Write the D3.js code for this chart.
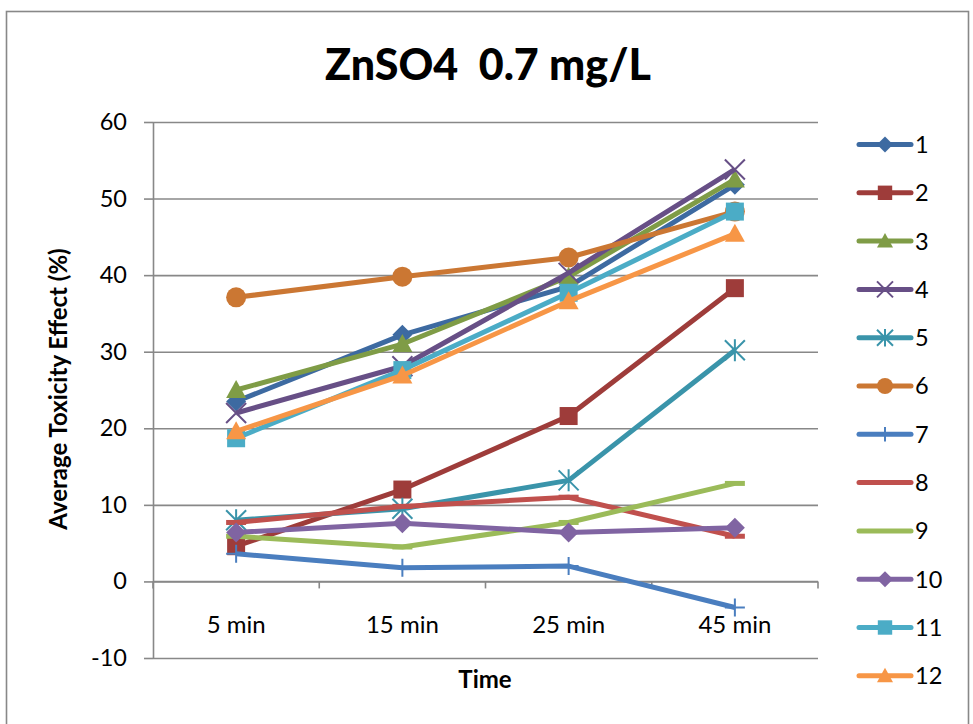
<!DOCTYPE html>
<html>
<head>
<meta charset="utf-8">
<script src="https://cdn.jsdelivr.net/npm/d3@7"></script>
<style>
  html, body { margin: 0; padding: 0; background: #fff; }
  svg { display: block; }
  text { font-family: Lato, "Open Sans", "Liberation Sans", sans-serif; fill: #000; }
</style>
</head>
<body>
<div id="chart"></div>
<script>
// Categories (sampling times) and tick values
const times = ["5 min", "15 min", "25 min", "45 min"];
const yTicks = [-10, 0, 10, 20, 30, 40, 50, 60];

// Series names
const seriesNames = ["1", "2", "3", "4", "5", "6", "7", "8", "9", "10", "11", "12"];

// Average toxicity effect (%) per series, one value per time
const s1  = [23.5, 32.2, 38.5, 51.8];
const s2  = [4.6, 12.0, 21.6, 38.3];
const s3  = [25.0, 31.0, 39.8, 52.5];
const s4  = [22.0, 28.1, 40.3, 53.8];
const s5  = [8.0, 9.5, 13.2, 30.2];
const s6  = [37.1, 39.8, 42.3, 48.3];
const s7  = [3.6, 1.8, 2.0, -3.4];
const s8  = [7.7, 9.8, 11.0, 5.9];
const s9  = [5.9, 4.5, 7.7, 12.8];
const s10 = [6.4, 7.6, 6.4, 7.0];
const s11 = [18.7, 27.6, 37.7, 48.3];
const s12 = [19.6, 26.9, 36.6, 45.4];
const seriesValues = [s1, s2, s3, s4, s5, s6, s7, s8, s9, s10, s11, s12];

const colors = ["#3D6AA1", "#9E3C3A", "#7F9C46", "#674F86", "#3A94AA", "#CB7733",
                "#4A7EBF", "#C0504D", "#9BBB59", "#8064A2", "#4BACC6", "#F79646"];
const markers = ["diamond", "square", "triangle", "x", "asterisk", "circle",
                 "plus", "dash", "dash", "diamond", "square", "triangle"];

const W = 973, H = 724;
const plot = { left: 153, right: 818, top: 122, bottom: 658 };

const svg = d3.select("#chart").append("svg")
  .attr("width", W).attr("height", H);

// Chart frame
svg.append("rect")
  .attr("x", 6.5).attr("y", 11.5).attr("width", 962).attr("height", 740)
  .attr("fill", "#fff").attr("stroke", "#888").attr("stroke-width", 1.6);

// Title
svg.append("text")
  .attr("x", 488).attr("y", 80)
  .attr("text-anchor", "middle")
  .attr("font-size", 43).attr("font-weight", 900)
  .text("ZnSO4\u00a0\u00a00.7 mg/L");

const x = d3.scaleBand().domain(times).range([plot.left, plot.right]).padding(0);
const y = d3.scaleLinear().domain([-10, 60]).range([plot.bottom, plot.top]);
const cx = t => x(t) + x.bandwidth() / 2;

// Horizontal gridlines with left tick marks
const gridG = svg.append("g")
  .attr("transform", `translate(${plot.left},0)`)
  .call(d3.axisLeft(y).tickValues(yTicks).tickSize(9).tickSizeOuter(0).tickPadding(17)
        .tickFormat(d => String(d)));
gridG.select(".domain").attr("stroke", "#888").attr("stroke-width", 1.6);
gridG.selectAll(".tick line").attr("stroke", "#888").attr("stroke-width", 1.6);
gridG.selectAll(".tick text").attr("font-size", 23.5).attr("font-family", "Lato, sans-serif").attr("fill", "#000");
gridG.selectAll(".tick").append("line")
  .attr("x1", 0).attr("x2", plot.right - plot.left)
  .attr("stroke", "#888").attr("stroke-width", 1.6);

// Category axis at zero with tick marks between categories
const catAxis = svg.append("g").attr("transform", `translate(0,${y(0)})`);
catAxis.append("line")
  .attr("x1", plot.left).attr("x2", plot.right)
  .attr("stroke", "#888").attr("stroke-width", 1.6);
const bounds = times.map(t => x(t)).concat([x(times[times.length - 1]) + x.bandwidth()]);
catAxis.selectAll("line.tk").data(bounds).join("line").attr("class", "tk")
  .attr("x1", d => d).attr("x2", d => d).attr("y1", 0).attr("y2", 7)
  .attr("stroke", "#888").attr("stroke-width", 1.6);
catAxis.selectAll("text").data(times).join("text")
  .attr("x", d => cx(d)).attr("y", 52)
  .attr("text-anchor", "middle").attr("font-size", 24)
  .text(d => d);

// Axis titles
svg.append("text")
  .attr("transform", "translate(67,389) rotate(-90)")
  .attr("text-anchor", "middle").attr("font-size", 24).attr("font-weight", 700)
  .text("Average Toxicity Effect (%)");
svg.append("text")
  .attr("x", 485).attr("y", 688)
  .attr("text-anchor", "middle").attr("font-size", 24).attr("font-weight", 700)
  .text("Time");

// Marker drawing
function drawMarker(g, type, color, s) {
  const h = s / 2;
  switch (type) {
    case "diamond":
      g.append("path").attr("d", `M0,${-h}L${h},0L0,${h}L${-h},0Z`).attr("fill", color);
      break;
    case "square":
      g.append("rect").attr("x", -h * 0.9).attr("y", -h * 0.9).attr("width", s * 0.9).attr("height", s * 0.9).attr("fill", color);
      break;
    case "triangle":
      g.append("path").attr("d", `M0,${-h}L${h},${h * 0.8}L${-h},${h * 0.8}Z`).attr("fill", color);
      break;
    case "circle":
      g.append("circle").attr("r", h).attr("fill", color);
      break;
    case "x":
      g.append("path").attr("d", `M${-h},${-h}L${h},${h}M${-h},${h}L${h},${-h}`)
        .attr("stroke", color).attr("stroke-width", 2).attr("fill", "none");
      break;
    case "asterisk":
      g.append("path").attr("d", `M${-h},${-h}L${h},${h}M${-h},${h}L${h},${-h}M0,${-h * 1.1}L0,${h * 1.1}`)
        .attr("stroke", color).attr("stroke-width", 2).attr("fill", "none");
      break;
    case "plus":
      g.append("path").attr("d", `M0,${-h * 0.9}L0,${h * 0.9}M${-h},0L${h},0`)
        .attr("stroke", color).attr("stroke-width", 2).attr("fill", "none");
      break;
    case "dash":
      g.append("rect").attr("x", -h).attr("y", -2.5).attr("width", s).attr("height", 5).attr("fill", color);
      break;
  }
}

// Series lines and markers
const line = d3.line().x((d, i) => cx(times[i])).y(d => y(d));
const seriesG = svg.append("g");
seriesValues.forEach((vals, k) => {
  const g = seriesG.append("g");
  g.append("path").datum(vals).attr("d", line)
    .attr("fill", "none").attr("stroke", colors[k]).attr("stroke-width", 5)
    .attr("stroke-linejoin", "round");
  vals.forEach((v, i) => {
    const m = g.append("g").attr("transform", `translate(${cx(times[i])},${y(v)})`);
    drawMarker(m, markers[k], colors[k], 20);
  });
});

// Legend
const legend = svg.append("g");
seriesNames.forEach((name, k) => {
  const ly = 144.5 + k * 48.3;
  const g = legend.append("g").attr("transform", `translate(0,${ly})`);
  g.append("line").attr("x1", 859).attr("x2", 911).attr("y1", 0).attr("y2", 0)
    .attr("stroke", colors[k]).attr("stroke-width", 5).attr("stroke-linecap", "round");
  const m = g.append("g").attr("transform", "translate(885,0)");
  if (markers[k] !== "dash") drawMarker(m, markers[k], colors[k], 16);
  g.append("text").attr("x", 915).attr("y", 0).attr("dy", "0.36em")
    .attr("font-size", 23.5).text(name);
});
</script>
</body>
</html>
